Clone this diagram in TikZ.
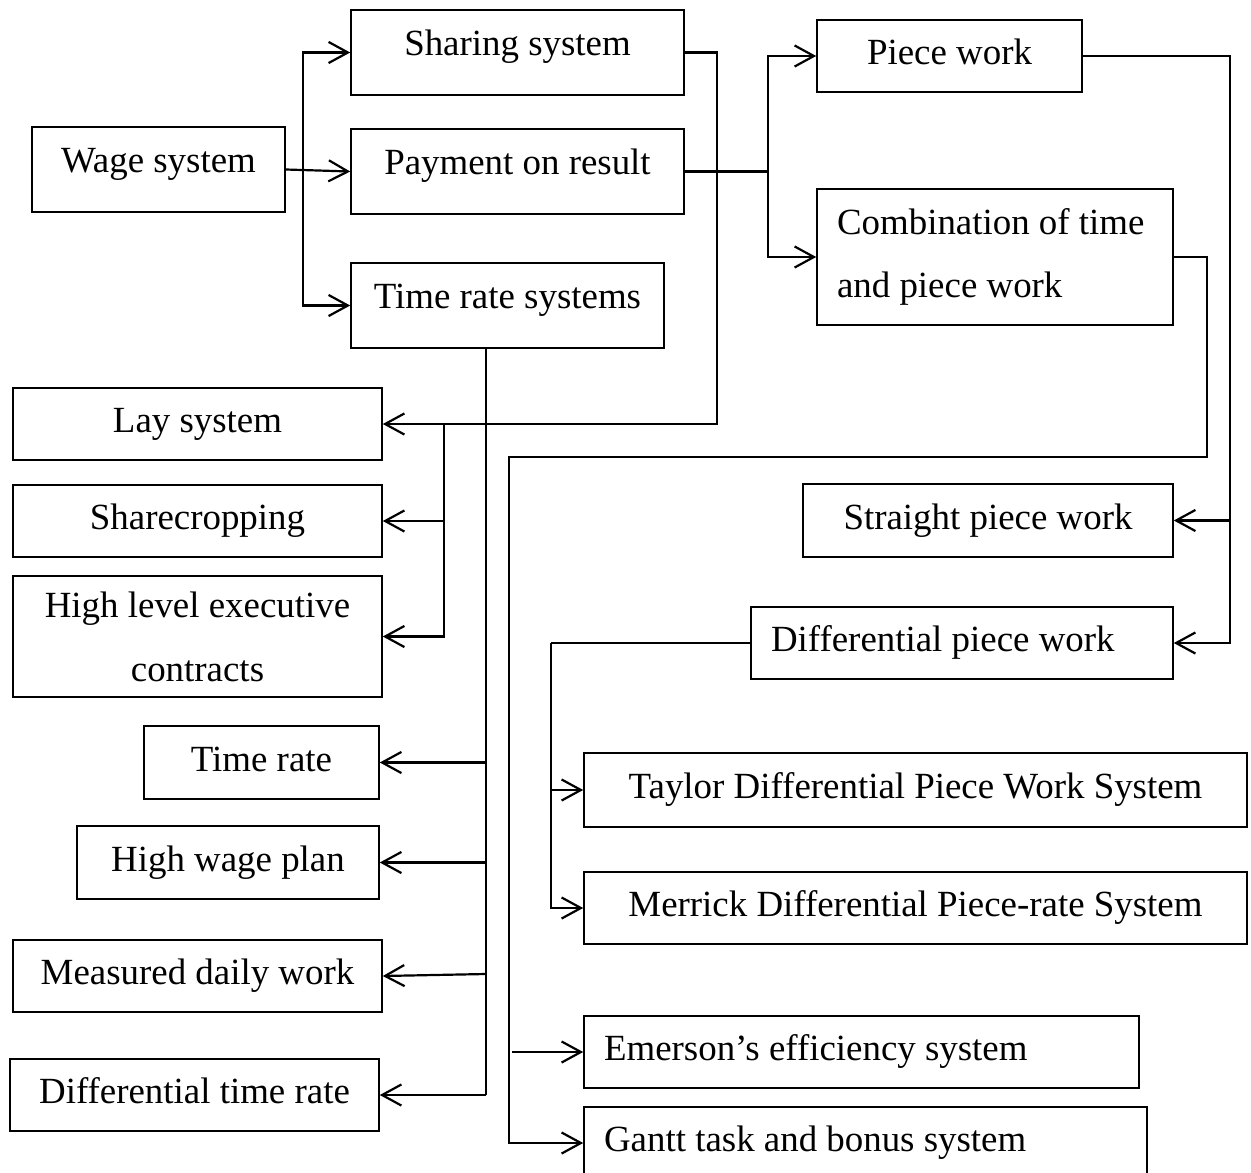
\documentclass[tikz,border=0pt]{standalone}
\usepackage{fontspec}
\setmainfont{Liberation Serif}
\usetikzlibrary{arrows.meta}
\begin{document}
\begin{tikzpicture}[x=0.02cm,y=-0.02cm,
  box/.style 2 args={draw, line width=0.9pt, inner ysep=0pt,
    minimum width=#1*0.02cm, minimum height=#2*0.02cm,
    font=\fontsize{21}{36.3}\selectfont},
  one/.style={text height=14.7pt, text depth=4.6pt},
  upper/.style={text height=14.7pt, text depth=11.6pt},
  wire/.style={line width=1.25pt},
  arr/.style={wire, -{Straight Barb[length=11pt,width=12pt,line width=1.25pt]}}]
\useasboundingbox (0,0) rectangle (1251,1173);

% first level
\node[box={253}{85}, upper] (wage) at (158.5,169.5) {Wage system};
\node[box={333}{85}, upper] (share) at (517.5,52.5) {Sharing system};
\node[box={333}{85}, upper] (pay) at (517.5,171.5) {Payment on result};
\node[box={313}{85}, upper] (trs) at (507.5,305.5) {Time rate systems};

% payment on result branch
\node[box={265}{72}, one] (piece) at (949.5,56) {Piece work};
\node[box={356}{136}, align=flush left, text width=6.32cm, inner xsep=0.4cm] (comb) at (995,257) {Combination of time\\and piece work};
\node[box={370}{73}, one] (spw) at (988,520.5) {Straight piece work};
\node[box={422}{72}, one, align=flush left, text width=7.64cm, inner xsep=0.4cm] (dpw) at (962,643) {Differential piece work};
\node[box={663}{74}, one] (taylor) at (915.5,790) {Taylor Differential Piece Work System};
\node[box={663}{72}, one] (merrick) at (915.5,908) {Merrick Differential Piece-rate System};
\node[box={555}{72}, one, align=flush left, text width=10.3cm, inner xsep=0.4cm] (emer) at (861.5,1052) {Emerson’s efficiency system};
\node[box={563}{72}, one, align=flush left, text width=10.46cm, inner xsep=0.4cm] (gantt) at (865.5,1143) {Gantt task and bonus system};

% sharing system branch
\node[box={369}{72}, one] (lay) at (197.5,424) {Lay system};
\node[box={369}{72}, one] (crop) at (197.5,521) {Sharecropping};
\node[box={369}{121}, align=flush center] (hlec) at (197.5,636.5) {High level executive\\contracts};

% time rate branch
\node[box={235}{73}, one] (tr) at (261.5,762.5) {Time rate};
\node[box={302}{73}, one] (hwp) at (228,862.5) {High wage plan};
\node[box={369}{72}, one] (md) at (197.5,976) {Measured daily work};
\node[box={369}{72}, one] (dtr) at (194.5,1095) {Differential time rate};

% junction points
\coordinate (wj) at (303,169.5);
\coordinate (sv) at (717,424);
\coordinate (sb) at (444,424);
\coordinate (pj) at (768,171.5);
\coordinate (tv) at (486,1095);
\coordinate (c1) at (1207,457);
\coordinate (c2) at (509,457);
\coordinate (p1) at (1230,643);
\coordinate (d1) at (551,643);

% wage system
\draw[arr] (wage.east) -- (pay.west);
\draw[arr] (wj) |- (share.west);
\draw[arr] (wj) |- (trs.west);

% sharing system
\draw[arr] (share.east) -| (sv) -- (lay.east);
\draw[arr] (sb) |- (crop.east);
\draw[arr] (sb) |- (hlec.east);

% payment on result
\draw[wire] (pay.east) -- (pj);
\draw[arr] (pj) |- (piece.west);
\draw[arr] (pj) |- (comb.west);

% time rate systems
\draw[wire] (trs.south -| tv) -- (tv);
\draw[arr] (tv) -- (dtr.east);
\draw[arr] (tr.east -| tv) -- (tr.east);
\draw[arr] (hwp.east -| tv) -- (hwp.east);
\draw[arr] ([yshift=0.04cm]md.east -| tv) -- (md.east);

% combination of time and piece work
\draw[arr] (comb.east) -| (c1) -- (c2) |- (gantt.west);
\draw[arr] ([xshift=0.06cm]c2 |- emer.west) -- (emer.west);

% piece work
\draw[arr] (piece.east) -| (p1) -- (dpw.east);
\draw[arr] (p1 |- spw.east) -- (spw.east);

% differential piece work
\draw[wire] (dpw.west) -- (d1);
\draw[arr] (d1) |- (taylor.west);
\draw[arr] (d1) |- (merrick.west);
\end{tikzpicture}
\end{document}
